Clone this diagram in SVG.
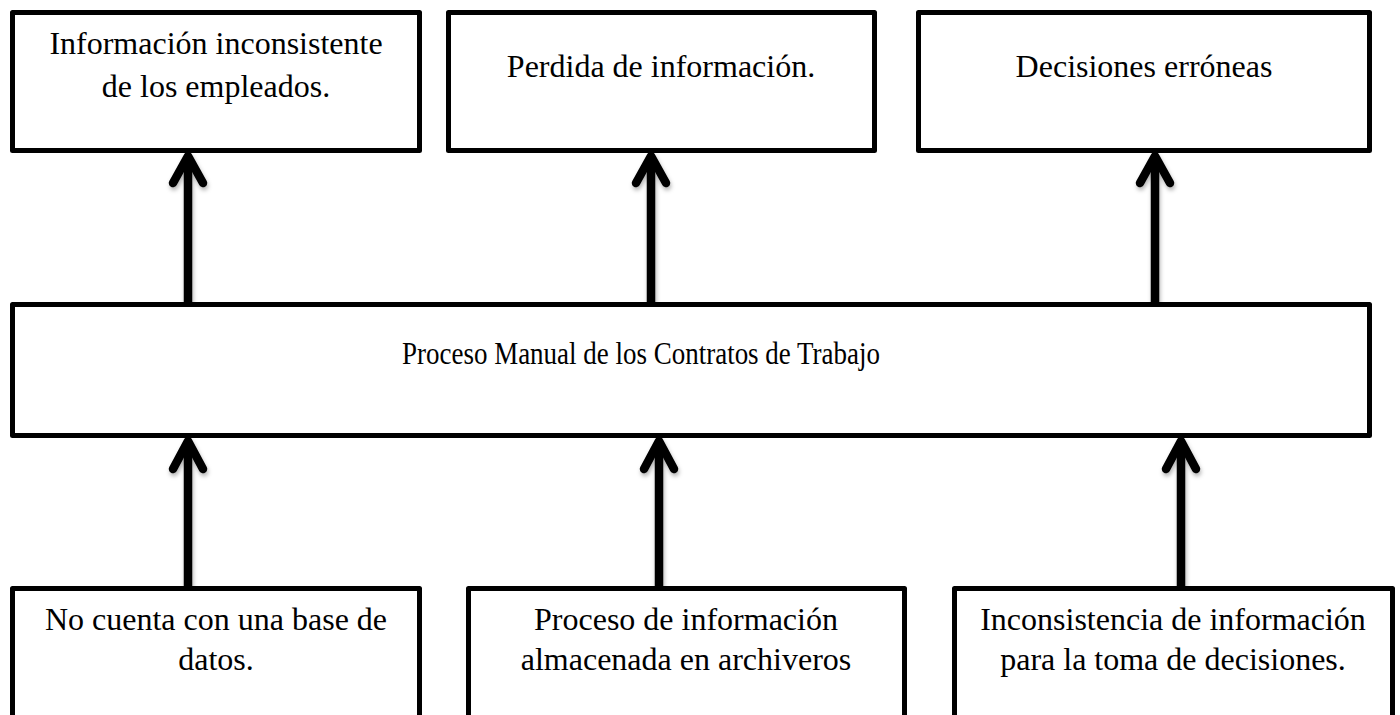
<svg xmlns="http://www.w3.org/2000/svg" width="1400" height="715" viewBox="0 0 1400 715">
<style>
  .box { fill: #ffffff; stroke: #000000; stroke-width: 5; stroke-linejoin: round; }
  .lbl { font-family: "Liberation Serif", "Times New Roman", serif; font-size: 32px; fill: #000000; text-anchor: middle; }
  .shaft { fill: none; stroke: #000000; stroke-width: 8.5; }
  .head { fill: none; stroke: #000000; stroke-width: 8.5; stroke-linecap: round; stroke-linejoin: round; }
</style>
<defs>
  <filter id="sh" x="-50%" y="-20%" width="200%" height="140%">
    <feDropShadow dx="1" dy="3" stdDeviation="2" flood-color="#000000" flood-opacity="0.3"/>
  </filter>
</defs>
<rect width="1400" height="715" fill="#ffffff"/>

<g id="connectors" filter="url(#sh)">
  <g id="c-top-left">
    <line class="shaft" x1="188" y1="304" x2="188" y2="160"/>
    <path class="head" d="M173,183 L188,156 L203,183"/>
  </g>
  <g id="c-top-mid">
    <line class="shaft" x1="651" y1="304" x2="651" y2="160"/>
    <path class="head" d="M636,183 L651,156 L666,183"/>
  </g>
  <g id="c-top-right">
    <line class="shaft" x1="1155" y1="304" x2="1155" y2="160"/>
    <path class="head" d="M1140,183 L1155,156 L1170,183"/>
  </g>
  <g id="c-bot-left">
    <line class="shaft" x1="188" y1="588" x2="188" y2="445"/>
    <path class="head" d="M173,469 L188,441 L203,469"/>
  </g>
  <g id="c-bot-mid">
    <line class="shaft" x1="659" y1="588" x2="659" y2="445"/>
    <path class="head" d="M644,469 L659,441 L674,469"/>
  </g>
  <g id="c-bot-right">
    <line class="shaft" x1="1181" y1="588" x2="1181" y2="445"/>
    <path class="head" d="M1166,469 L1181,441 L1196,469"/>
  </g>
</g>

<g id="n-info-inconsistente">
  <rect class="box" x="12.5" y="12.5" width="407" height="138"/>
  <text class="lbl" x="216" y="54">Información inconsistente</text>
  <text class="lbl" x="216" y="97">de los empleados.</text>
</g>
<g id="n-perdida">
  <rect class="box" x="448.5" y="12.5" width="426" height="138"/>
  <text class="lbl" x="661" y="77">Perdida de información.</text>
</g>
<g id="n-decisiones">
  <rect class="box" x="918.5" y="12.5" width="451" height="138"/>
  <text class="lbl" x="1144" y="77">Decisiones erróneas</text>
</g>

<g id="n-proceso-manual">
  <rect class="box" x="12.5" y="304.5" width="1357" height="131"/>
  <text class="lbl" x="402" y="364" style="text-anchor:start" textLength="478" lengthAdjust="spacingAndGlyphs">Proceso Manual de los Contratos de Trabajo</text>
</g>

<g id="n-no-base">
  <rect class="box" x="12.5" y="588.5" width="407" height="200"/>
  <text class="lbl" x="216" y="630">No cuenta con una base de</text>
  <text class="lbl" x="216" y="670">datos.</text>
</g>
<g id="n-archiveros">
  <rect class="box" x="468.5" y="588.5" width="436" height="200"/>
  <text class="lbl" x="686" y="630">Proceso de información</text>
  <text class="lbl" x="686" y="670">almacenada en archiveros</text>
</g>
<g id="n-inconsistencia">
  <rect class="box" x="954.5" y="588.5" width="438" height="200"/>
  <text class="lbl" x="1173" y="630">Inconsistencia de información</text>
  <text class="lbl" x="1173" y="670">para la toma de decisiones.</text>
</g>
</svg>
